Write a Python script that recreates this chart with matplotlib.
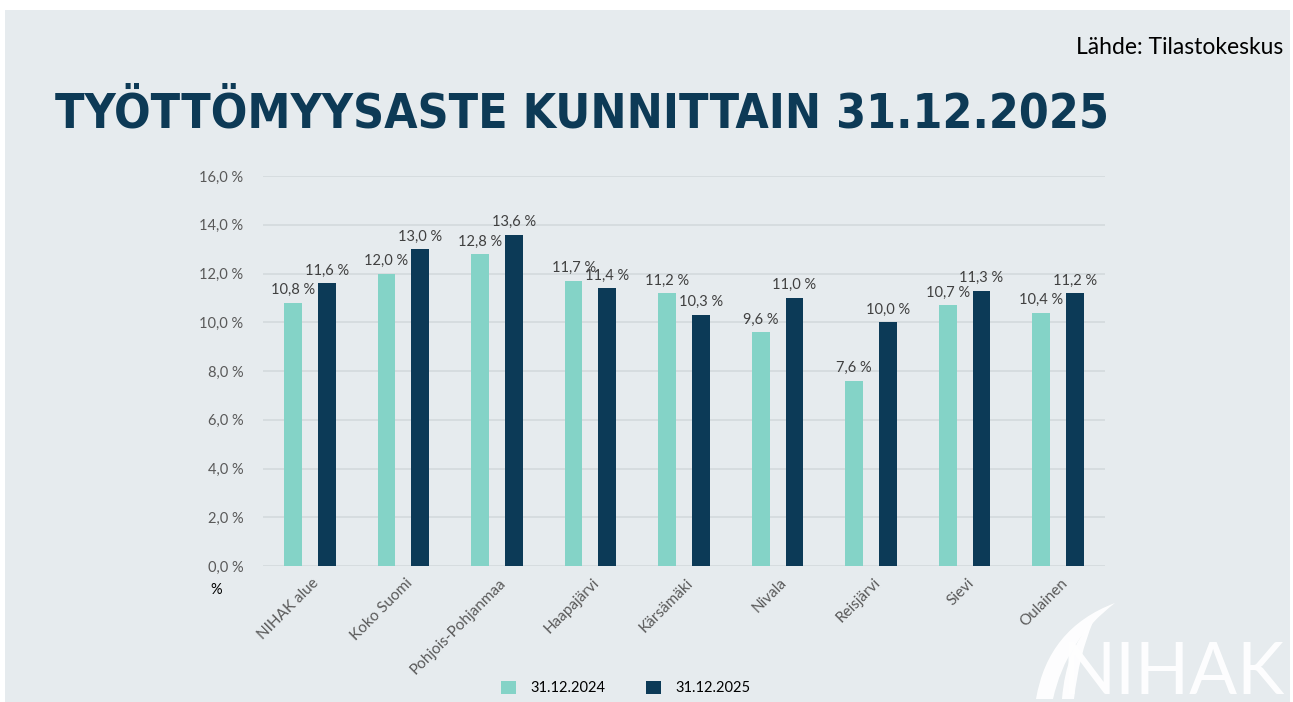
import numpy as np
import matplotlib
matplotlib.use("Agg")
from matplotlib import pyplot as plt
from matplotlib.patches import Rectangle, PathPatch, Patch
from matplotlib.path import Path

categories = ["NIHAK alue", "Koko Suomi", "Pohjois-Pohjanmaa", "Haapajärvi", "Kärsämäki",
              "Nivala", "Reisjärvi", "Sievi", "Oulainen"]
rate_2024 = [10.8, 12.0, 12.8, 11.7, 11.2, 9.6, 7.6, 10.7, 10.4]
rate_2025 = [11.6, 13.0, 13.6, 11.4, 10.3, 11.0, 10.0, 11.3, 11.2]
series_names = ["31.12.2024", "31.12.2025"]
y_ticks = [0, 2, 4, 6, 8, 10, 12, 14, 16]

BG = "#E6EBEE"
TEAL = "#84D3C7"
NAVY = "#0C3A57"
GREY = "#595959"
FONT = "Lato"

W, H = 1293, 702
fig = plt.figure(figsize=(W / 100, H / 100), dpi=100, facecolor="white")

# light panel behind everything
fig.patches.append(Rectangle((5 / W, 0), 1285 / W, 1 - 10 / H, transform=fig.transFigure,
                             facecolor=BG, edgecolor="none", zorder=-5))

ax = fig.add_axes([263 / W, 1 - 566 / H, 842 / W, 390 / H])
ax.set_facecolor("none")
ax.set_zorder(2)

x = np.arange(len(categories))
bw = 0.19
b1 = ax.bar(x - 0.18, rate_2024, bw, color=TEAL, zorder=3)
b2 = ax.bar(x + 0.18, rate_2025, bw, color=NAVY, zorder=3)

def fmt(v):
    return f"{v:.1f}".replace(".", ",") + " %"

for bars, vals in ((b1, rate_2024), (b2, rate_2025)):
    for rect, v in zip(bars, vals):
        ax.annotate(fmt(v), (rect.get_x() + rect.get_width() / 2, v), xytext=(0, 4),
                    textcoords="offset points", ha="center", va="bottom",
                    fontsize=10.5, color="#404040", family=FONT, zorder=4)

ax.set_ylim(0, 16)
ax.set_xlim(-0.5, len(categories) - 0.5)
ax.set_yticks(y_ticks)
ax.set_yticklabels([fmt(t) for t in y_ticks], fontsize=10.5, color=GREY, family=FONT)
ax.tick_params(axis="y", length=0, pad=14)
ax.tick_params(axis="x", length=0, pad=7)
ax.set_xticks(x + 0.02)
ax.set_xticklabels(categories, rotation=45, ha="right", va="top", rotation_mode="anchor",
                   fontsize=11, color=GREY, family=FONT)
ax.grid(axis="y", color="#D3D9DD", linewidth=1.2, zorder=0)
for s in ax.spines.values():
    s.set_visible(False)

fig.text(210 / W, 1 - 590 / H, "%", fontsize=10.5, color="black", family=FONT,
         ha="left", va="center")

# legend
handles = [Patch(facecolor=TEAL, label=series_names[0]), Patch(facecolor=NAVY, label=series_names[1])]
fig.legend(handles=handles, loc="center", bbox_to_anchor=(626 / W, 1 - 688 / H), ncol=2,
           frameon=False, prop={"family": FONT, "size": 10.5}, handlelength=1.0,
           handleheight=1.0, columnspacing=2.8, handletextpad=1.0)

# title and source
fig.text(55 / W, 1 - 127 / H, "TYÖTTÖMYYSASTE KUNNITTAIN 31.12.2025", fontsize=34.6,
         fontweight="bold", fontstretch="condensed", color="#0D3A56", family="DejaVu Sans",
         ha="left", va="baseline")
fig.text(1283 / W, 1 - 47 / H, "Lähde: Tilastokeskus", fontsize=16.5, color="black",
         family=FONT, ha="right", va="center")

# logo
fig.text(1285 / W, 1 - 694 / H, "NIHAK", fontsize=51, color="white", family=FONT,
         ha="right", va="baseline", alpha=0.95)

def px(pts):
    return [(a / W, 1 - b / H) for a, b in pts]

C = Path.CURVE3
sw1 = Path(px([(1036, 699), (1048, 628), (1115, 603), (1066, 640), (1053, 699), (1036, 699)]),
           [Path.MOVETO, C, C, C, C, Path.CLOSEPOLY])
sw2 = Path(px([(1062, 699), (1066, 648), (1093, 622), (1079, 655), (1074, 699), (1062, 699)]),
           [Path.MOVETO, C, C, C, C, Path.CLOSEPOLY])
for p in (sw1, sw2):
    fig.patches.append(PathPatch(p, transform=fig.transFigure, facecolor="white",
                                 edgecolor="none", alpha=0.95))

fig.savefig("out.png", dpi=100, facecolor=fig.get_facecolor())
